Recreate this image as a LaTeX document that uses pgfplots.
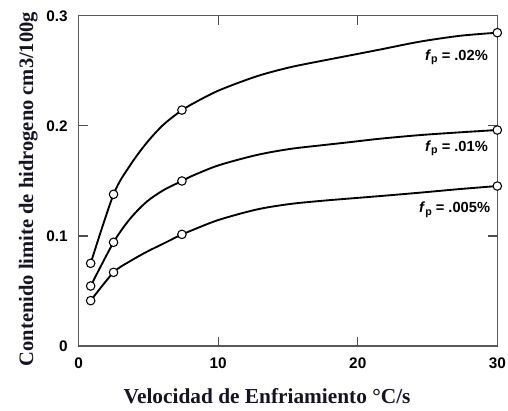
\documentclass[border=0pt]{standalone}
\usepackage{pgfplots}
\pgfplotsset{compat=1.18}
\usepackage{fontspec}
\setmainfont{Liberation Serif}
\setsansfont{Liberation Sans}
\newfontfamily\labelfont{Liberation Sans}

% measured points on each curve
\pgfplotstableread{
x y
0.86 0.0751
2.5 0.1378
7.4 0.2143
30 0.2846
}\ptsA
\pgfplotstableread{
x y
0.86 0.0545
2.5 0.0942
7.4 0.1499
30 0.1962
}\ptsB
\pgfplotstableread{
x y
0.86 0.0412
2.5 0.0669
7.4 0.1014
30 0.1453
}\ptsC
% traced curves through the points
\pgfplotstableread{
x y
0.86 0.0751
2.5 0.1378
3.68 0.1640
4.87 0.1845
6.07 0.2010
7.4 0.2143
8.0 0.2189
10.0 0.2319
12.76 0.2450
15.15 0.2532
17.53 0.2593
19.45 0.2640
21.6 0.2693
24.47 0.2765
27.34 0.2818
30 0.2846
}\curveA
\pgfplotstableread{
x y
0.86 0.0545
2.5 0.0942
3.68 0.1155
4.87 0.1310
6.07 0.1415
7.4 0.1499
8.0 0.1538
10.0 0.1640
12.76 0.1735
15.15 0.1790
17.53 0.1825
19.45 0.1852
21.6 0.1883
24.47 0.1916
27.34 0.1941
30 0.1962
}\curveB
\pgfplotstableread{
x y
0.86 0.0412
2.5 0.0669
3.68 0.0770
4.87 0.0855
6.07 0.0930
7.4 0.1014
8.0 0.1045
10.0 0.1144
12.76 0.1240
15.15 0.1290
17.53 0.1320
19.45 0.1340
21.6 0.1362
24.47 0.1393
27.34 0.1426
30 0.1453
}\curveC

\begin{document}
\begin{tikzpicture}
\begin{axis}[
  at={(0,0)}, anchor=south west,
  scale only axis,
  width=314pt, height=247.7pt,
  xmin=0, xmax=30, ymin=0, ymax=0.3,
  xtick={0,10,20,30},
  ytick={0,0.1,0.2,0.3},
  yticklabels={0,0.1,0.2,0.3},
  xticklabels={0,10,20,30},
  tick align=inside,
  major tick length=7pt,
  tick style={line width=0.9pt, black!70},
  axis line style={line width=0.9pt, black!65},
  ticklabel style={font=\labelfont\bfseries\fontsize{11.5}{12}\selectfont},
  xticklabel style={yshift=-5pt},
  yticklabel style={xshift=-4.7pt},
  clip=false,
  xlabel={Velocidad de Enfriamiento °C/s},
  ylabel={Contenido limite de hidrogeno cm3/100g},
  xlabel style={at={(axis description cs:0.45,-0.1756)}, anchor=base,
    font=\rmfamily\bfseries\fontsize{16}{18}\selectfont, text={rgb,1:red,0.08;green,0.08;blue,0.14}},
  ylabel style={at={(axis description cs:-0.109,0.475)}, anchor=base,
    font=\rmfamily\bfseries\fontsize{15.4}{17}\selectfont, text={rgb,1:red,0.08;green,0.08;blue,0.14}},
  every axis plot/.append style={line width=1.4pt, black},
  mark options={solid, fill=white, line width=0.8pt, draw=black},
]
\addplot[smooth, tension=0.5, no markers] table {\curveA};
\addplot[smooth, tension=0.5, no markers] table {\curveB};
\addplot[smooth, tension=0.5, no markers] table {\curveC};
\addplot[only marks, mark=*, mark size=3.2pt] table {\ptsA};
\addplot[only marks, mark=*, mark size=3.2pt] table {\ptsB};
\addplot[only marks, mark=*, mark size=3.2pt] table {\ptsC};

\node[anchor=east, inner sep=0pt, font=\labelfont\bfseries\fontsize{11}{12}\selectfont]
  at (axis cs:29.34,0.2622) {\textit{f}\raisebox{-0.35ex}{\fontsize{8}{9}\selectfont p} = .02\%};
\node[anchor=east, inner sep=0pt, font=\labelfont\bfseries\fontsize{11}{12}\selectfont]
  at (axis cs:29.34,0.1795) {\textit{f}\raisebox{-0.35ex}{\fontsize{8}{9}\selectfont p} = .01\%};
\node[anchor=east, inner sep=0pt, font=\labelfont\bfseries\fontsize{11}{12}\selectfont]
  at (axis cs:29.5,0.1240) {\textit{f}\raisebox{-0.35ex}{\fontsize{8}{9}\selectfont p} = .005\%};
\end{axis}
\pgfresetboundingbox
\path (-59.0pt,-48.75pt) rectangle (322.0pt,259.5pt);
\end{tikzpicture}
\end{document}
